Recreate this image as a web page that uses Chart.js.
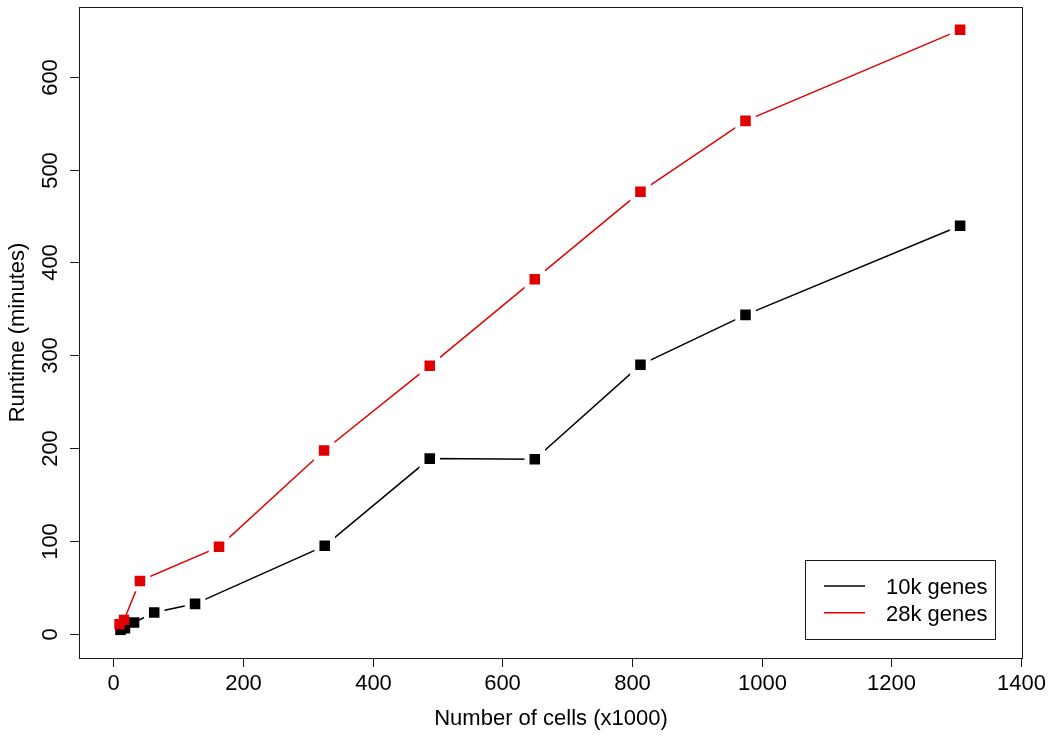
<!DOCTYPE html>
<html>
<head>
<meta charset="utf-8">
<script src="https://cdn.jsdelivr.net/npm/chart.js@4"></script>
<style>
  html, body { margin: 0; padding: 0; background: #fff; }
</style>
</head>
<body>
<canvas id="runtimeChart" width="1050" height="736"></canvas>
<script>
// data
const seriesNames = ["10k genes", "28k genes"];
const cells10k = [11, 18, 32, 63, 126, 326, 488, 650, 813, 975, 1306];
const runtime10k = [4.3, 6, 12.2, 22.9, 32.3, 94.8, 188.7, 188, 289.7, 343.5, 439.4];
const cells28k = [9.5, 16.5, 41, 163, 325, 488, 650, 813, 975, 1306];
const runtime28k = [10.4, 15, 57, 93.7, 197.4, 288.6, 381.9, 476, 552.4, 650.4];
const xTicks = [0, 200, 400, 600, 800, 1000, 1200, 1400];
const yTicks = [0, 100, 200, 300, 400, 500, 600];
const xTitle = "Number of cells (x1000)";
const yTitle = "Runtime (minutes)";

const colors = ["#000000", "#e00000"];
const FONT = '22px "Liberation Sans", Arial, Helvetica, sans-serif';

function toPoints(xs, ys) {
    return xs.map((x, i) => ({ x, y: ys[i] }));
}

// points close to the origin overlap, no white gap around them
const crowded = ctx => ctx.raw && ctx.raw.x < 35;

function makeDataset(label, points, color, order) {
    return {
        label,
        data: points,
        showLine: true,
        borderColor: color,
        backgroundColor: color,
        borderWidth: 1.5,
        pointStyle: "rect",
        pointBackgroundColor: color,
        pointBorderColor: "#ffffff",
        pointRadius: ctx => crowded(ctx) ? 7.4 : 11,
        pointBorderWidth: ctx => crowded(ctx) ? 0 : 5,
        pointHoverRadius: ctx => crowded(ctx) ? 7.4 : 11,
        order
    };
}

// R style box, ticks, labels and legend
const baseAxes = {
    id: "baseAxes",
    afterDraw(chart) {
        const { ctx, chartArea: a, scales: { x, y } } = chart;
        ctx.save();
        ctx.strokeStyle = "#1a1a1a";
        ctx.lineWidth = 1;
        ctx.strokeRect(a.left + 0.5, a.top + 0.5, a.right - a.left - 1, a.bottom - a.top);

        ctx.fillStyle = "#000";
        ctx.font = FONT;

        // x ticks
        ctx.textAlign = "center";
        ctx.textBaseline = "alphabetic";
        xTicks.forEach(v => {
            const px = Math.round(x.getPixelForValue(v)) + 0.5;
            ctx.beginPath();
            ctx.moveTo(px, a.bottom);
            ctx.lineTo(px, a.bottom + 9);
            ctx.stroke();
            ctx.fillText(String(v), px, a.bottom + 32);
        });
        ctx.fillText(xTitle, (a.left + a.right) / 2, a.bottom + 67);

        // y ticks
        yTicks.forEach(v => {
            const py = Math.round(y.getPixelForValue(v)) + 0.5;
            ctx.beginPath();
            ctx.moveTo(a.left - 9, py);
            ctx.lineTo(a.left, py);
            ctx.stroke();
            ctx.save();
            ctx.translate(a.left - 22, py);
            ctx.rotate(-Math.PI / 2);
            ctx.fillText(String(v), 0, 0);
            ctx.restore();
        });
        ctx.save();
        ctx.translate(24, (a.top + a.bottom) / 2);
        ctx.rotate(-Math.PI / 2);
        ctx.fillText(yTitle, 0, 0);
        ctx.restore();

        // legend, bottom right
        const lw = 190, lh = 79;
        const lx = a.right - 28 - lw, ly = a.bottom - 19 - lh;
        ctx.fillStyle = "#fff";
        ctx.fillRect(lx, ly, lw, lh);
        ctx.strokeStyle = "#1a1a1a";
        ctx.strokeRect(lx + 0.5, ly + 0.5, lw, lh);
        ctx.textAlign = "left";
        seriesNames.forEach((name, i) => {
            const rowY = ly + 26 + i * 26.7;
            ctx.strokeStyle = colors[i];
            ctx.lineWidth = 1.5;
            ctx.beginPath();
            ctx.moveTo(lx + 19, rowY);
            ctx.lineTo(lx + 60, rowY);
            ctx.stroke();
            ctx.fillStyle = "#000";
            ctx.fillText(name, lx + 81, rowY + 8);
        });
        ctx.restore();
    }
};

const chart = new Chart(document.getElementById("runtimeChart"), {
    type: "scatter",
    data: {
        datasets: [
            makeDataset(seriesNames[0], toPoints(cells10k, runtime10k), colors[0], 1),
            makeDataset(seriesNames[1], toPoints(cells28k, runtime28k), colors[1], 0)
        ]
    },
    options: {
        responsive: false,
        animation: false,
        layout: { autoPadding: false, padding: { left: 79, right: 27, top: 7, bottom: 78 } },
        scales: {
            x: { type: "linear", min: -53, max: 1403, display: false },
            y: { type: "linear", min: -26, max: 675, display: false }
        },
        plugins: {
            legend: { display: false },
            tooltip: { enabled: false }
        }
    },
    plugins: [baseAxes]
});
</script>
</body>
</html>
